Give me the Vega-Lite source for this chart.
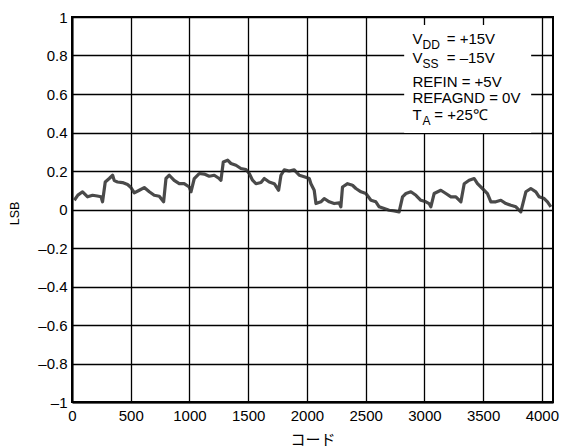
{
  "$schema": "https://vega.github.io/schema/vega-lite/v6.json",
  "width": 481,
  "height": 385,
  "autosize": "none",
  "padding": {"left": 72, "top": 17, "right": 9, "bottom": 46},
  "background": "white",
  "config": {
    "font": "Liberation Sans",
    "view": {"stroke": "black", "strokeWidth": 2},
    "axis": {"labelFont": "Liberation Sans", "titleFont": "Liberation Sans", "labelColor": "black", "titleColor": "black", "labelFontSize": 15, "titleFontSize": 15, "titleFontWeight": "normal", "grid": true, "gridColor": "black", "gridWidth": 1.3, "gridOpacity": 1, "domainColor": "black", "domainWidth": 2, "ticks": false, "labelOverlap": false, "labelBound": false}
  },
  "datasets": {
    "inl": [
      {"code": 20, "lsb": 0.048}, {"code": 50, "lsb": 0.075}, {"code": 90, "lsb": 0.092}, {"code": 133, "lsb": 0.066},
      {"code": 175, "lsb": 0.074}, {"code": 215, "lsb": 0.07}, {"code": 247, "lsb": 0.066}, {"code": 260, "lsb": 0.04},
      {"code": 283, "lsb": 0.143}, {"code": 317, "lsb": 0.161}, {"code": 346, "lsb": 0.178}, {"code": 360, "lsb": 0.15},
      {"code": 388, "lsb": 0.143}, {"code": 430, "lsb": 0.14}, {"code": 473, "lsb": 0.13}, {"code": 502, "lsb": 0.114},
      {"code": 530, "lsb": 0.086}, {"code": 573, "lsb": 0.1}, {"code": 615, "lsb": 0.114}, {"code": 658, "lsb": 0.092},
      {"code": 700, "lsb": 0.074}, {"code": 743, "lsb": 0.069}, {"code": 780, "lsb": 0.04}, {"code": 800, "lsb": 0.161},
      {"code": 828, "lsb": 0.178}, {"code": 870, "lsb": 0.151}, {"code": 913, "lsb": 0.134}, {"code": 955, "lsb": 0.134},
      {"code": 998, "lsb": 0.117}, {"code": 1013, "lsb": 0.092}, {"code": 1041, "lsb": 0.161}, {"code": 1083, "lsb": 0.187},
      {"code": 1126, "lsb": 0.184}, {"code": 1168, "lsb": 0.173}, {"code": 1211, "lsb": 0.178}, {"code": 1253, "lsb": 0.161},
      {"code": 1268, "lsb": 0.152}, {"code": 1288, "lsb": 0.247}, {"code": 1325, "lsb": 0.256}, {"code": 1353, "lsb": 0.239},
      {"code": 1396, "lsb": 0.23}, {"code": 1438, "lsb": 0.213}, {"code": 1481, "lsb": 0.208}, {"code": 1509, "lsb": 0.187},
      {"code": 1537, "lsb": 0.152}, {"code": 1566, "lsb": 0.134}, {"code": 1609, "lsb": 0.14}, {"code": 1637, "lsb": 0.161},
      {"code": 1679, "lsb": 0.143}, {"code": 1722, "lsb": 0.134}, {"code": 1759, "lsb": 0.1}, {"code": 1779, "lsb": 0.178},
      {"code": 1807, "lsb": 0.206}, {"code": 1849, "lsb": 0.2}, {"code": 1892, "lsb": 0.206}, {"code": 1935, "lsb": 0.178},
      {"code": 1977, "lsb": 0.17}, {"code": 2020, "lsb": 0.161}, {"code": 2034, "lsb": 0.134}, {"code": 2062, "lsb": 0.1},
      {"code": 2077, "lsb": 0.031}, {"code": 2119, "lsb": 0.04}, {"code": 2147, "lsb": 0.057}, {"code": 2190, "lsb": 0.04},
      {"code": 2232, "lsb": 0.031}, {"code": 2275, "lsb": 0.034}, {"code": 2289, "lsb": 0.014}, {"code": 2303, "lsb": 0.117},
      {"code": 2346, "lsb": 0.134}, {"code": 2388, "lsb": 0.126}, {"code": 2417, "lsb": 0.109}, {"code": 2460, "lsb": 0.092},
      {"code": 2502, "lsb": 0.083}, {"code": 2545, "lsb": 0.048}, {"code": 2587, "lsb": 0.04}, {"code": 2615, "lsb": 0.014},
      {"code": 2658, "lsb": 0.005}, {"code": 2700, "lsb": -0.004}, {"code": 2743, "lsb": -0.007}, {"code": 2785, "lsb": -0.012},
      {"code": 2814, "lsb": 0.066}, {"code": 2843, "lsb": 0.083}, {"code": 2885, "lsb": 0.092}, {"code": 2928, "lsb": 0.074},
      {"code": 2970, "lsb": 0.048}, {"code": 3013, "lsb": 0.04}, {"code": 3040, "lsb": 0.031}, {"code": 3055, "lsb": 0.014},
      {"code": 3083, "lsb": 0.083}, {"code": 3140, "lsb": 0.1}, {"code": 3183, "lsb": 0.083}, {"code": 3226, "lsb": 0.066},
      {"code": 3268, "lsb": 0.066}, {"code": 3311, "lsb": 0.04}, {"code": 3339, "lsb": 0.134}, {"code": 3381, "lsb": 0.152},
      {"code": 3424, "lsb": 0.161}, {"code": 3452, "lsb": 0.134}, {"code": 3494, "lsb": 0.109}, {"code": 3537, "lsb": 0.083},
      {"code": 3566, "lsb": 0.04}, {"code": 3608, "lsb": 0.04}, {"code": 3651, "lsb": 0.048}, {"code": 3694, "lsb": 0.031},
      {"code": 3736, "lsb": 0.022}, {"code": 3779, "lsb": 0.014}, {"code": 3821, "lsb": -0.012}, {"code": 3864, "lsb": 0.092},
      {"code": 3906, "lsb": 0.109}, {"code": 3949, "lsb": 0.092}, {"code": 3977, "lsb": 0.066}, {"code": 4020, "lsb": 0.057},
      {"code": 4048, "lsb": 0.04}, {"code": 4077, "lsb": 0.014}
    ],
    "one": [{}]
  },
  "layer": [
    {
      "data": {"name": "inl"},
      "mark": {"type": "line", "stroke": "#2a2a2a", "strokeWidth": 3.2, "opacity": 0.85, "strokeJoin": "round"},
      "encoding": {
        "x": {"field": "code", "type": "quantitative", "scale": {"domain": [0, 4095], "nice": false, "zero": false},
              "axis": {"values": [0, 500, 1000, 1500, 2000, 2500, 3000, 3500, 4000], "tickCount": 20, "format": "d", "title": "コード", "titleFont": "Noto Sans CJK JP", "labelPadding": 6, "labelFlush": false, "titleY": 37, "titleBaseline": "middle"}},
        "y": {"field": "lsb", "type": "quantitative", "scale": {"domain": [-1, 1], "nice": false},
              "axis": {"values": [-1, -0.8, -0.6, -0.4, -0.2, 0, 0.2, 0.4, 0.6, 0.8, 1], "tickCount": 20, "title": "LSB", "titleFontSize": 12.5, "labelPadding": 5,
                       "labelExpr": "(datum.value < -0.0001 ? '–' : '') + format(abs(datum.value), '.1~f')",
                       "titleX": -58, "titleY": 196, "titleBaseline": "middle", "titleAlign": "center", "titleAngle": -90}}
      }
    },
    {
      "data": {"name": "one"},
      "mark": {"type": "rect", "fill": "white"},
      "encoding": {"x": {"datum": 2828}, "x2": {"datum": 3909}, "y": {"datum": 0.958}, "y2": {"datum": 0.397}}
    },
    {
      "data": {"name": "one"},
      "mark": {"type": "text", "align": "left", "baseline": "alphabetic", "fontSize": 15, "font": "Liberation Sans", "color": "black"},
      "encoding": {"x": {"datum": 2899}, "y": {"datum": 0.859}, "text": {"value": "V"}}
    },
    {
      "data": {"name": "one"},
      "mark": {"type": "text", "align": "left", "baseline": "alphabetic", "fontSize": 12, "font": "Liberation Sans", "color": "black"},
      "encoding": {"x": {"datum": 2984}, "y": {"datum": 0.836}, "text": {"value": "DD"}}
    },
    {
      "data": {"name": "one"},
      "mark": {"type": "text", "align": "left", "baseline": "alphabetic", "fontSize": 15, "font": "Liberation Sans", "color": "black"},
      "encoding": {"x": {"datum": 3190}, "y": {"datum": 0.859}, "text": {"value": "= +15V"}}
    },
    {
      "data": {"name": "one"},
      "mark": {"type": "text", "align": "left", "baseline": "alphabetic", "fontSize": 15, "font": "Liberation Sans", "color": "black"},
      "encoding": {"x": {"datum": 2899}, "y": {"datum": 0.759}, "text": {"value": "V"}}
    },
    {
      "data": {"name": "one"},
      "mark": {"type": "text", "align": "left", "baseline": "alphabetic", "fontSize": 12, "font": "Liberation Sans", "color": "black"},
      "encoding": {"x": {"datum": 2984}, "y": {"datum": 0.736}, "text": {"value": "SS"}}
    },
    {
      "data": {"name": "one"},
      "mark": {"type": "text", "align": "left", "baseline": "alphabetic", "fontSize": 15, "font": "Liberation Sans", "color": "black"},
      "encoding": {"x": {"datum": 3190}, "y": {"datum": 0.759}, "text": {"value": "= –15V"}}
    },
    {
      "data": {"name": "one"},
      "mark": {"type": "text", "align": "left", "baseline": "alphabetic", "fontSize": 15, "font": "Liberation Sans", "color": "black"},
      "encoding": {"x": {"datum": 2899}, "y": {"datum": 0.634}, "text": {"value": "REFIN = +5V"}}
    },
    {
      "data": {"name": "one"},
      "mark": {"type": "text", "align": "left", "baseline": "alphabetic", "fontSize": 15, "font": "Liberation Sans", "color": "black"},
      "encoding": {"x": {"datum": 2899}, "y": {"datum": 0.554}, "text": {"value": "REFAGND = 0V"}}
    },
    {
      "data": {"name": "one"},
      "mark": {"type": "text", "align": "left", "baseline": "alphabetic", "fontSize": 15, "font": "Liberation Sans", "color": "black"},
      "encoding": {"x": {"datum": 2899}, "y": {"datum": 0.464}, "text": {"value": "T"}}
    },
    {
      "data": {"name": "one"},
      "mark": {"type": "text", "align": "left", "baseline": "alphabetic", "fontSize": 12, "font": "Liberation Sans", "color": "black"},
      "encoding": {"x": {"datum": 2984}, "y": {"datum": 0.438}, "text": {"value": "A"}}
    },
    {
      "data": {"name": "one"},
      "mark": {"type": "text", "align": "left", "baseline": "alphabetic", "fontSize": 15, "font": "Liberation Sans", "color": "black"},
      "encoding": {"x": {"datum": 3085}, "y": {"datum": 0.464}, "text": {"value": "= +25℃"}}
    }
  ]
}
